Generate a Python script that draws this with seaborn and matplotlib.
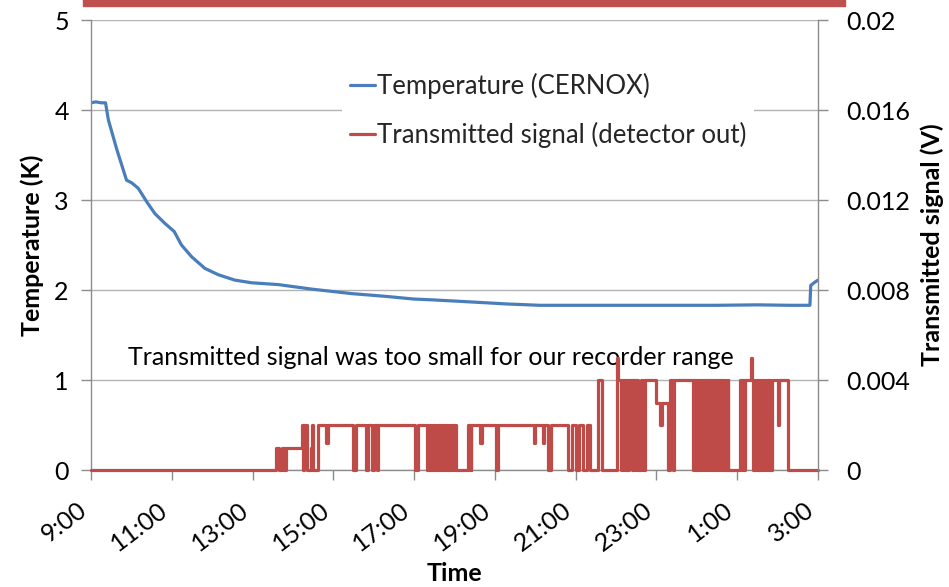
import matplotlib
matplotlib.use("Agg")
import matplotlib.pyplot as plt
import seaborn as sns
import pandas as pd
from matplotlib.patches import Rectangle
from matplotlib.lines import Line2D

# ---------------- data (hours after 9:00) ----------------
temp_hours = [0.00, 0.12, 0.25, 0.36, 0.43, 0.64, 0.88, 1.01, 1.17, 1.38,
              1.58, 1.83, 2.06, 2.24, 2.49, 2.82, 3.15, 3.56, 3.98, 4.64,
              5.46, 6.45, 7.28, 7.98, 8.47, 9.30, 10.29, 11.11, 12.50, 14.00,
              15.50, 16.50, 17.30, 17.80, 17.82, 17.90, 18.00]
temp_kelvin = [4.08, 4.09, 4.08, 4.08, 3.89, 3.56, 3.22, 3.19, 3.13, 2.98,
               2.85, 2.74, 2.65, 2.50, 2.37, 2.24, 2.17, 2.11, 2.08, 2.06,
               2.01, 1.96, 1.93, 1.90, 1.89, 1.87, 1.845, 1.83, 1.83, 1.83,
               1.83, 1.835, 1.83, 1.83, 2.05, 2.08, 2.11]

sig_hours = [0.00, 4.58, 4.66, 4.72, 4.78, 4.84, 5.22, 5.26, 5.28, 5.34,
             5.44, 5.48, 5.50, 5.61, 5.83, 5.86, 6.49, 6.57, 6.81, 6.86,
             6.95, 7.00, 7.07, 7.11, 8.02, 8.10,
             8.31, 8.34, 8.37, 8.40, 8.43, 8.46, 8.49, 8.52, 8.55, 8.58,
             8.61, 8.64, 8.67, 8.70, 8.73, 8.76, 8.79, 8.82, 8.85, 8.88,
             8.91, 8.94, 8.97, 9.00, 9.03,
             9.34, 9.36, 9.38, 9.40, 9.42, 9.64, 9.67, 10.02, 10.07, 10.96,
             10.99, 11.19, 11.22, 11.31, 11.40, 11.82, 11.90, 12.02, 12.09, 12.19,
             12.27, 12.35, 12.56, 12.64,
             13.03, 13.06, 13.13, 13.17, 13.22, 13.26, 13.30, 13.33, 13.39, 13.42,
             13.47, 13.50, 13.55, 13.62, 13.66, 13.72, 13.99, 14.09, 14.13, 14.29,
             14.33, 14.40, 14.43,
             14.91, 14.93, 14.95, 14.97, 14.99, 15.01, 15.03, 15.05, 15.08, 15.11,
             15.15, 15.18, 15.22, 15.25, 15.30, 15.33, 15.37, 15.40, 15.44, 15.47,
             15.51, 15.54, 15.58, 15.61, 15.66, 15.69, 15.73, 15.76, 15.78,
             16.07, 16.10, 16.13, 16.17, 16.20, 16.35, 16.37, 16.40, 16.43, 16.46,
             16.48, 16.51, 16.53, 16.55, 16.57, 16.60, 16.63, 16.67, 16.70, 16.74,
             16.77, 16.81, 16.85, 17.01, 17.04, 17.26, 18.00]
sig_volts = [0, .001, 0, .001, 0, .001, .002, 0, .002, 0,
             .001, .002, 0, .002, .0012, .002, 0, .002, 0, .002,
             0, .002, 0, .002, 0, .002,
             0, .002, 0, .002, 0, .002, 0, .002, 0, .002,
             0, .002, 0, .002, 0, .002, 0, .002, 0, .002,
             0, .002, 0, .002, 0,
             .002, 0, .002, 0, .002, .0012, .002, 0, .002, .0012,
             .002, .0012, .002, 0, .002, 0, .002, 0, .002, 0,
             .002, 0, .004, 0,
             .005, .004, 0, .004, 0, .004, 0, .004, 0, .004,
             0, .004, 0, .004, 0, .004, .003, .002, .003, 0,
             .004, 0, .004,
             0, .004, 0, .004, 0, .004, 0, .004, 0, .004,
             0, .004, 0, .004, 0, .004, 0, .004, 0, .004,
             0, .004, 0, .004, 0, .004, 0, .004, 0,
             .004, 0, .004, 0, .004, .005, .004, 0, .004, 0,
             .004, 0, .004, 0, .004, 0, .004, 0, .004, 0,
             .004, 0, .004, .002, .004, 0, 0]

x_ticks = [0, 2, 4, 6, 8, 10, 12, 14, 16, 18]
x_tick_labels = ["9:00", "11:00", "13:00", "15:00", "17:00", "19:00",
                 "21:00", "23:00", "1:00", "3:00"]
left_ticks = [0, 1, 2, 3, 4, 5]
right_ticks = [0, 0.004, 0.008, 0.012, 0.016, 0.02]
right_tick_labels = ["0", "0.004", "0.008", "0.012", "0.016", "0.02"]

temp_df = pd.DataFrame({"hours": temp_hours, "kelvin": temp_kelvin})
sig_df = pd.DataFrame({"hours": sig_hours, "volts": sig_volts})

# ---------------- style ----------------
sns.set_theme(style="white")
plt.rcParams['font.family'] = ['Lato', 'DejaVu Sans']
FS = 18
BLUE = "#4A7EBB"
RED = "#BE4B48"
GRID = "#B3B3B3"
AXC = "#8C8C8C"

fig = plt.figure(figsize=(9.49, 5.87), dpi=100)
ax = fig.add_axes([91 / 949, 1 - 470 / 587, 727 / 949, 450 / 587])
ax2 = ax.twinx()

sns.lineplot(data=temp_df, x="hours", y="kelvin", ax=ax, color=BLUE,
             linewidth=2.3, estimator=None, sort=False, legend=False)
sns.lineplot(data=sig_df, x="hours", y="volts", ax=ax2, color=RED,
             linewidth=2.3, estimator=None, sort=False, legend=False,
             drawstyle="steps-post")
for ln in ax2.get_lines():
    ln.set_clip_on(False)

ax.set_xlim(0, 18)
ax.set_ylim(0, 5)
ax2.set_ylim(0, 0.02)

ax.set_xticks(x_ticks)
ax.set_xticklabels(x_tick_labels, rotation=37, ha="right", va="top",
                   fontsize=FS)
ax.set_yticks(left_ticks)
ax.set_yticklabels([str(t) for t in left_ticks], fontsize=FS)
ax2.set_yticks(right_ticks)
ax2.set_yticklabels(right_tick_labels, fontsize=FS)

ax.yaxis.grid(True, color=GRID, linewidth=1)
ax.xaxis.grid(False)
ax.set_axisbelow(True)

for s in ["top", "right"]:
    ax.spines[s].set_visible(False)
for s in ["top", "left", "bottom"]:
    ax2.spines[s].set_visible(False)
for s in ["left", "bottom"]:
    ax.spines[s].set_color(AXC)
    ax.spines[s].set_linewidth(1)
ax2.spines["right"].set_color(AXC)
ax2.spines["right"].set_linewidth(1)

ax.tick_params(axis="x", direction="out", length=7, width=1, color=AXC,
               pad=13, labelcolor="black", bottom=True)
ax.tick_params(axis="y", direction="out", length=7, width=1, color=AXC,
               pad=9, labelcolor="black", left=True)
ax2.tick_params(axis="y", direction="out", length=7, width=1, color=AXC,
                pad=13, labelcolor="black", right=True)

ax.set_xlabel("Time", fontsize=FS, fontweight="bold", color="black")
ax.xaxis.set_label_coords(0.5, -0.205)
ax.set_ylabel("Temperature (K)", fontsize=FS, fontweight="bold",
              color="black", va="center")
ax.yaxis.set_label_coords(-0.081, 0.5)
ax2.set_ylabel("Transmitted signal (V)", fontsize=FS, fontweight="bold",
               color="black", rotation=90, va="center")
ax2.yaxis.set_label_coords(1.157, 0.5)

handles = [Line2D([], [], color=BLUE, linewidth=2.3),
           Line2D([], [], color=RED, linewidth=2.3)]
leg = ax2.legend(handles, ["Temperature (CERNOX)",
                           "Transmitted signal (detector out)"],
                 loc="upper left", bbox_to_anchor=(0.345, 0.90),
                 prop={"size": FS + 0.5}, frameon=True, facecolor="white",
                 edgecolor="none", framealpha=1, fancybox=False,
                 handlelength=1.0, handletextpad=0.05, labelspacing=0.9,
                 borderpad=0.3, borderaxespad=0)
leg.set_zorder(10)

ax.text(0.468, 0.249,
        "Transmitted signal was too small for our recorder range",
        transform=ax.transAxes, ha="center", va="center", fontsize=FS,
        color="black")

fig.patches.append(Rectangle((83 / 949, 1 - 6 / 587), (845 - 83) / 949,
                             8 / 587, transform=fig.transFigure,
                             color="#C0504D", zorder=5))

fig.savefig("out.png", dpi=100)
